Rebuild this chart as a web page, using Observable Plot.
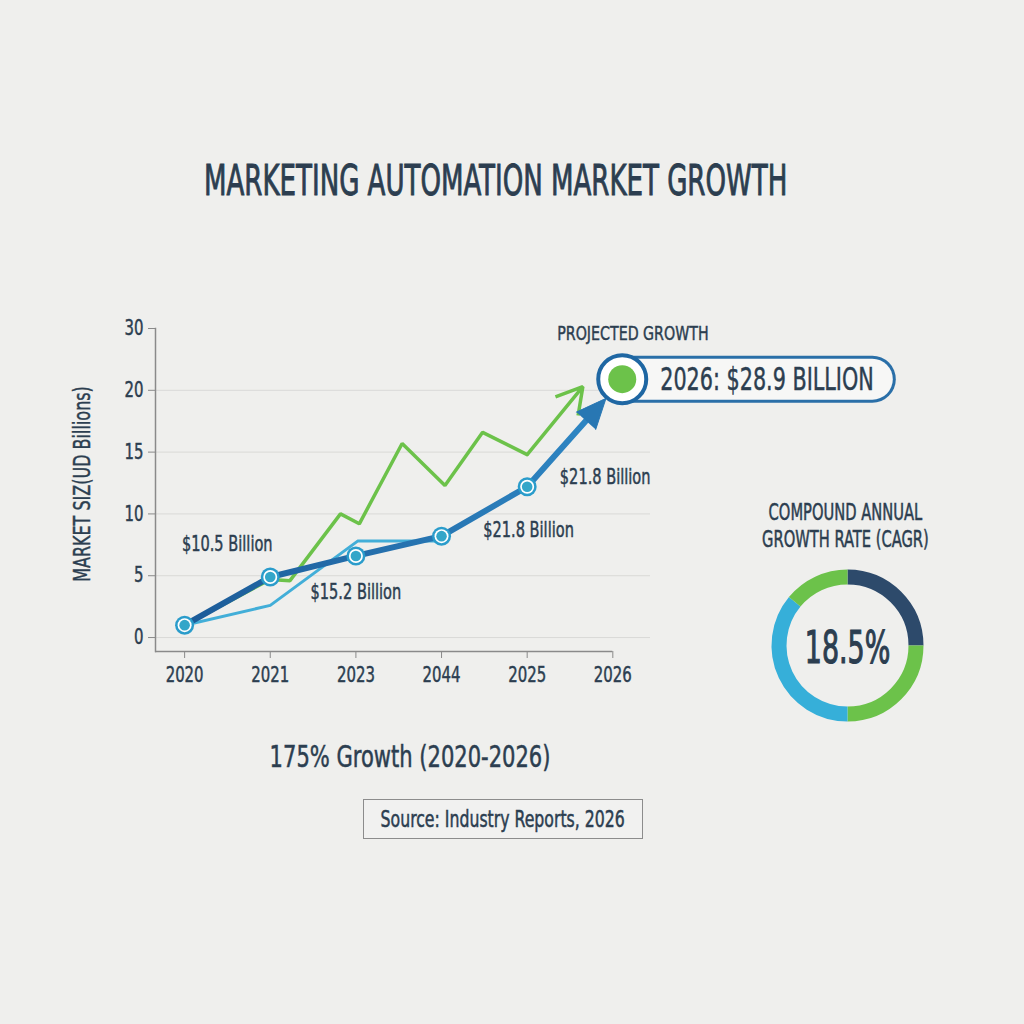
<!DOCTYPE html>
<html>
<head>
<meta charset="utf-8">
<script src="https://cdn.jsdelivr.net/npm/d3@7"></script>
<script src="https://cdn.jsdelivr.net/npm/@observablehq/plot@0.6"></script>
<style>
  body { margin: 0; background: #efefed; }
  #page {
    position: relative; width: 1024px; height: 1024px; overflow: hidden;
    background: #efefed; color: #2c3e50;
    font-family: "DejaVu Sans Condensed", "Liberation Sans Narrow", sans-serif;
  }
  .abs {
    position: absolute; white-space: nowrap; line-height: 1;
    display: flex; justify-content: center; align-items: center; text-align: center;
    -webkit-text-stroke: 0.5px #2c3e50;
  }
  .squeeze { display: inline-block; transform-origin: 50% 50%; flex: none; }
  #title { left: 0; width: 992px; top: 158px; height: 46px; font-size: 42px; -webkit-text-stroke: 0.9px #2c3e50; }
  #title .squeeze { transform: scaleX(0.69); }
  #cagrTitle { left: 745px; width: 200px; top: 499px; height: 54px; font-size: 23px; line-height: 27px; }
  #cagrTitle .squeeze { transform: scaleX(0.71); }
  #growth { left: 210px; width: 400px; top: 740px; height: 34px; font-size: 30px; }
  #growth .squeeze { transform: scaleX(0.78); }
  #source {
    left: 363px; top: 799px; width: 278px; height: 38px; border: 1px solid #8c8c8c;
    font-size: 23px; background: #f1f1f0;
  }
  #source .squeeze { transform: scaleX(0.76); }
  #chart { position: absolute; left: 0; top: 300px; }
  #donut { position: absolute; left: 747px; top: 545px; }
</style>
</head>
<body>
<div id="page">
  <div id="title" class="abs"><span class="squeeze"></span></div>
  <div id="cagrTitle" class="abs"><span class="squeeze"></span></div>
  <div id="growth" class="abs"><span class="squeeze"></span></div>
  <div id="source" class="abs"><span class="squeeze"></span></div>
  <div id="chart"></div>
  <div id="donut"></div>
</div>
<script>
// ---- text ----
const titleText = "MARKETING AUTOMATION MARKET GROWTH";
const yAxisTitle = "MARKET SIZ(UD Billions)";
const cagrTitle = ["COMPOUND ANNUAL", "GROWTH RATE (CAGR)"];
const cagrValue = "18.5%";
const growthText = "175% Growth (2020-2026)";
const sourceText = "Source: Industry Reports, 2026";
const projectedTitle = "PROJECTED GROWTH";
const projectedText = "2026: $28.9 BILLION";

// ---- axes ----
const xLabels = ["2020", "2021", "2023", "2044", "2025", "2026"];
const yTicks = [0, 5, 10, 15, 20, 25];
const yTickLabels = ["0", "5", "10", "15", "20", "30"];
const gridValues = [0, 5, 10, 15, 20];

// ---- series (x = category position, y = US$ billions) ----
const marketX = [0, 1, 2, 3, 4];
const marketY = [1.0, 4.9, 6.6, 8.2, 12.2];
const marketTip = [4.92, 19.35];

const greenX = [0, 1, 1.23, 1.82, 2.04, 2.54, 3.04, 3.48, 4.0];
const greenY = [1.0, 4.7, 4.6, 10.0, 9.2, 15.7, 12.3, 16.6, 14.8];
const greenTip = [4.65, 20.3];

const lightX = [0, 1, 2.02, 3];
const lightY = [1.0, 2.6, 7.8, 7.8];

// labels attached to points of the main series
const pointLabels = ["$10.5 Billion", "$15.2 Billion", "$21.8 Billion", "$21.8 Billion"];
const pointLabelAt = [1, 2, 3, 4];

// projected 2026 marker
const projectedX = 5.11;
const projectedY = 20.9;
const projectedPillEnd = 8.03;

// CAGR ring segments (share of the ring, clockwise from top)
const cagrShares = [25, 25, 36, 14];

// ---- styles ----
const INK = "#2c3e50";
const DARK = "#2877b3";
const GREEN = "#6cc24a";
const LIGHT = "#42aed8";
const labelOffsets = [[-43, -33], [0, 36], [87, -6], [78, -9]];
const ringColors = ["#2d4a6b", GREEN, "#36afd9", GREEN];
const FONT = '"DejaVu Sans Condensed", "Liberation Sans Narrow", sans-serif';

document.querySelector("#title .squeeze").textContent = titleText;
document.querySelector("#cagrTitle .squeeze").innerHTML = cagrTitle.join("<br>");
document.querySelector("#growth .squeeze").textContent = growthText;
document.querySelector("#source .squeeze").textContent = sourceText;

// narrow the SVG text horizontally and give it a slightly heavier stroke
function condense(svg, defaultK, byClass = {}, weight = 0.45) {
  svg.querySelectorAll("text").forEach(t => {
    let k = defaultK;
    for (const [cls, v] of Object.entries(byClass)) if (t.closest("." + cls)) k = v;
    const L = t.getComputedTextLength();
    if (L > 0) {
      t.setAttribute("textLength", L * k);
      t.setAttribute("lengthAdjust", "spacingAndGlyphs");
    }
    t.style.stroke = INK;
    t.style.strokeWidth = weight + "px";
  });
}

// ---- layout of the main chart ----
const W = 1024, H = 420;
const mL = 155, mR = 374, mT = 28, mB = 69;
const xDomain = [-0.34, 5.44];
const yDomain = [-1.13, 25];
const pxX = (W - mL - mR) / (xDomain[1] - xDomain[0]);
const pxY = (H - mT - mB) / (yDomain[1] - yDomain[0]);

const market = marketX.map((x, i) => ({x, y: marketY[i]}));
const green = greenX.map((x, i) => ({x, y: greenY[i]}));
const light = lightX.map((x, i) => ({x, y: lightY[i]}));
const last = market[market.length - 1];

// direction of the projection arrow, in screen pixels
const ddx = (marketTip[0] - last.x) * pxX;
const ddy = (marketTip[1] - last.y) * pxY;
const arrowAngle = Math.atan2(ddx, ddy) * 180 / Math.PI;
const headLen = 30;
const segLen = Math.hypot(ddx, ddy);
const shaftEnd = {
  x: marketTip[0] - (ddx / segLen) * headLen * 0.6 / pxX,
  y: marketTip[1] - (ddy / segLen) * headLen * 0.6 / pxY
};

const labelMarks = pointLabels.map((t, i) => {
  const p = market[pointLabelAt[i]];
  return Plot.text([{x: p.x, y: p.y, t}], {
    x: "x", y: "y", text: "t", dx: labelOffsets[i][0], dy: labelOffsets[i][1],
    fontSize: 20.5, fill: INK
  });
});

const proj = [{x: projectedX, y: projectedY}];

const chart = Plot.plot({
  width: W, height: H,
  marginLeft: mL, marginRight: mR, marginTop: mT, marginBottom: mB,
  x: {domain: xDomain},
  y: {domain: yDomain},
  style: {fontFamily: FONT, background: "transparent", color: INK, overflow: "visible"},
  marks: [
    Plot.ruleY(gridValues, {stroke: "#d9d9d7", strokeWidth: 1}),
    Plot.frame({anchor: "left", stroke: "#8a8a8a", strokeWidth: 1.5}),
    Plot.ruleY([yDomain[0]], {x1: xDomain[0], x2: xLabels.length - 1, stroke: "#8a8a8a", strokeWidth: 1.5}),
    Plot.axisY(yTicks, {
      tickFormat: d => yTickLabels[yTicks.indexOf(d)], tickSize: 7, tickPadding: 5,
      fontSize: 21, label: null, stroke: "#8a8a8a", fill: INK
    }),
    Plot.axisX(d3.range(xLabels.length), {
      tickFormat: i => xLabels[i], tickSize: 7, tickPadding: 9,
      fontSize: 21, label: null, stroke: "#8a8a8a", fill: INK
    }),
    Plot.text([yAxisTitle], {frameAnchor: "left", textAnchor: "middle", rotate: -90, dx: -73, dy: -6, fontSize: 22.5, fill: INK}),

    // green series with its open arrow
    Plot.line(green, {x: "x", y: "y", stroke: GREEN, strokeWidth: 3.5, strokeLinejoin: "miter"}),
    Plot.arrow([{x1: green[green.length - 1].x, y1: green[green.length - 1].y, x2: greenTip[0], y2: greenTip[1]}],
      {x1: "x1", y1: "y1", x2: "x2", y2: "y2", stroke: GREEN, strokeWidth: 3.5, headLength: 13, strokeLinecap: "butt"}),

    // light blue series
    Plot.line(light, {x: "x", y: "y", stroke: LIGHT, strokeWidth: 3}),

    // main series (dark-to-bright blue) with its projection arrow
    Plot.line([...market, shaftEnd], {x: "x", y: "y", stroke: "url(#marketGradient)", strokeWidth: 6, strokeLinejoin: "round"}),
    Plot.vector([{x: marketTip[0], y: marketTip[1]}], {
      x: "x", y: "y", shape: "spike", anchor: "end", length: headLen, r: 13,
      rotate: arrowAngle, fill: DARK, stroke: DARK, strokeWidth: 1
    }),
    Plot.dot(market, {x: "x", y: "y", r: 9.5, fill: "#2a9ccb"}),
    Plot.dot(market, {x: "x", y: "y", r: 7, fill: "white"}),
    Plot.dot(market, {x: "x", y: "y", r: 5.3, fill: "#33a6c9"}),
    ...labelMarks,

    // projected 2026 callout
    Plot.text(proj, {x: "x", y: "y", text: () => projectedTitle, dx: -65, dy: -46, textAnchor: "start", fontSize: 20, fill: INK}),
    Plot.link(proj, {x1: "x", y1: "y", x2: () => projectedPillEnd, y2: "y", stroke: "#2a6fa8", strokeWidth: 47, strokeLinecap: "round"}),
    Plot.link(proj, {x1: "x", y1: "y", x2: () => projectedPillEnd, y2: "y", stroke: "#f7f7f6", strokeWidth: 41, strokeLinecap: "round"}),
    Plot.dot(proj, {x: "x", y: "y", r: 24, fill: "white", stroke: "#1f67a3", strokeWidth: 4}),
    Plot.dot(proj, {x: "x", y: "y", r: 14, fill: GREEN}),
    Plot.text(proj, {x: "x", y: "y", text: () => projectedText, dx: 38, dy: 1, textAnchor: "start", fontSize: 32, fill: INK, className: "callout-value"})
  ]
});
// gradient used by the main series line
d3.select(chart).insert("defs", ":first-child")
  .append("linearGradient").attr("id", "marketGradient")
  .attr("x1", "0%").attr("x2", "100%").attr("y1", "0%").attr("y2", "0%")
  .call(g => {
    g.append("stop").attr("offset", "0%").attr("stop-color", "#1c5b98");
    g.append("stop").attr("offset", "100%").attr("stop-color", "#2e86c3");
  });
document.getElementById("chart").appendChild(chart);
condense(chart, 0.79, {"callout-value": 0.72});

// ---- CAGR ring ----
const total = d3.sum(cagrShares);
let acc = 0;
const segments = cagrShares.map((s, i) => {
  const a0 = acc / total * 2 * Math.PI;
  acc += s;
  const a1 = acc / total * 2 * Math.PI;
  return {x1: Math.sin(a0), y1: Math.cos(a0), x2: Math.sin(a1), y2: Math.cos(a1),
          bend: (a1 - a0) / 2 * 180 / Math.PI, i};
});
const ringR = 1.46;
const donut = Plot.plot({
  width: 200, height: 200, margin: 0,
  x: {domain: [-ringR, ringR], axis: null},
  y: {domain: [-ringR, ringR], axis: null},
  style: {fontFamily: FONT, background: "transparent", color: INK, overflow: "visible"},
  marks: [
    ...segments.map(s => Plot.arrow([s], {
      x1: "x1", y1: "y1", x2: "x2", y2: "y2", bend: s.bend, headLength: 0,
      stroke: ringColors[s.i], strokeWidth: 15, strokeLinecap: "butt"
    })),
    Plot.text([cagrValue], {x: () => 0, y: () => 0, fontSize: 44, fill: INK, dy: 3})
  ]
});
document.getElementById("donut").appendChild(donut);
condense(donut, 0.68, {}, 1.1);
</script>
</body>
</html>
